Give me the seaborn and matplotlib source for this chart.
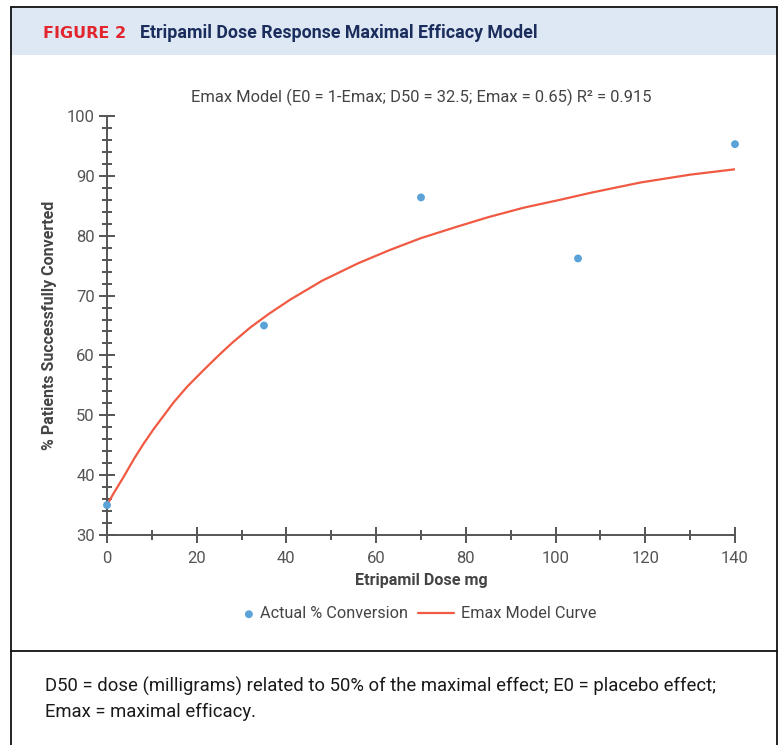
import matplotlib
matplotlib.use("Agg")
import matplotlib.pyplot as plt
from matplotlib.lines import Line2D
from matplotlib.patches import Rectangle
from matplotlib.ticker import MultipleLocator
from matplotlib.legend_handler import HandlerPathCollection
from matplotlib.collections import PathCollection
import seaborn as sns
import pandas as pd

# observed conversion rates per dose
dose_mg = [0, 35, 70, 105, 140]
pct_converted = [35.0, 65.0, 86.4, 76.2, 95.3]

# fitted Emax curve
curve_dose = [0, 1.5, 3.7, 6, 8.2, 10.5, 12.7, 14.9, 17.9, 21.6, 25.3, 27.9,
              32, 36, 40.8, 48, 56, 63, 70, 78, 85, 93, 101, 108, 119, 130, 140]
curve_pct = [35.0, 37.0, 39.7, 42.7, 45.3, 47.8, 50.0, 52.2, 54.8, 57.6, 60.3,
             62.1, 64.7, 66.9, 69.3, 72.5, 75.4, 77.6, 79.6, 81.5, 83.1, 84.7,
             86.0, 87.2, 88.9, 90.2, 91.1]

x_ticks = [0, 20, 40, 60, 80, 100, 120, 140]
y_ticks = [30, 40, 50, 60, 70, 80, 90, 100]

BLUE = "#5aa2d8"
RED = "#f05a42"
GREY = "#555555"
TEXT = "#444444"


class DotAtRight(HandlerPathCollection):
    # put the legend dot close to its label instead of mid-handle
    def get_xdata(self, legend, xdescent, ydescent, width, height, fontsize):
        return [-xdescent, -xdescent + width], [-xdescent + width - 3]


sns.set_style("ticks")
plt.rcParams["font.family"] = ["Roboto", "DejaVu Sans"]

W, H = 780, 745
fig = plt.figure(figsize=(W / 100, H / 100), dpi=100)


def fx(px):
    return px / W


def fy(py):
    return 1 - py / H


# frame, header band and divider
fig.add_artist(Rectangle((fx(10.5), fy(55)), fx(776.5) - fx(10.5), fy(7) - fy(55),
                         transform=fig.transFigure, facecolor="#dde8f4",
                         edgecolor="none", zorder=0))
for xs, ys in [([10.5, 10.5], [7, 745]), ([776.5, 776.5], [7, 745]),
               ([10.5, 776.5], [7, 7]), ([10.5, 776.5], [650.5, 650.5])]:
    fig.add_artist(Line2D([fx(v) for v in xs], [fy(v) for v in ys],
                          transform=fig.transFigure, color="#111111", lw=1.3))

fig.text(fx(43), fy(33), "FIGURE 2", family="DejaVu Sans", fontweight="bold",
         fontsize=11.5, color="#e3262d", va="center")
fig.text(fx(140), fy(33), "Etripamil Dose Response Maximal Efficacy Model",
         fontweight="bold", fontsize=12.8, color="#1b2d5c", va="center")

fig.text(fx(421), fy(97), "Emax Model (E0 = 1-Emax; D50 = 32.5; Emax = 0.65) R² = 0.915",
         ha="center", va="center", fontsize=11.9, color=TEXT)

ax = fig.add_axes([fx(107), fy(535), fx(735) - fx(107), fy(116) - fy(535)])

sns.scatterplot(x=dose_mg, y=pct_converted, ax=ax, color=BLUE, s=32,
                edgecolor="none", clip_on=False, zorder=3,
                label="Actual % Conversion")
sns.lineplot(x=curve_dose, y=curve_pct, ax=ax, color=RED, lw=1.6,
             label="Emax Model Curve")

ax.set_xlim(0, 140)
ax.set_ylim(30, 100)
ax.set_xticks(x_ticks)
ax.set_yticks(y_ticks)
ax.xaxis.set_minor_locator(MultipleLocator(10))
ax.yaxis.set_minor_locator(MultipleLocator(2))
sns.despine(ax=ax)
for side in ["left", "bottom"]:
    ax.spines[side].set_color(GREY)
    ax.spines[side].set_linewidth(1.4)
ax.tick_params(which="major", direction="inout", length=11.5, width=1.4,
               color=GREY, labelsize=12, labelcolor=GREY, pad=3)
ax.tick_params(which="minor", direction="inout", length=6.5, width=1.4, color=GREY)
ax.tick_params(axis="x", which="major", pad=5.5)

ax.set_xlabel("Etripamil Dose mg", fontsize=11.6, fontweight="semibold",
              color=TEXT, labelpad=5)
ax.set_ylabel("% Patients Successfully Converted", fontsize=11.5,
              fontweight="semibold", color=TEXT, labelpad=7)

handles, labels = ax.get_legend_handles_labels()
ax.get_legend().remove()
fig.legend(handles, labels, loc="center", bbox_to_anchor=(fx(407), fy(614)),
           ncol=2, frameon=False, fontsize=11.7, labelcolor=TEXT,
           handlelength=2.2, handletextpad=0.45, columnspacing=0.6,
           handler_map={PathCollection: DotAtRight()})

fig.text(fx(45), fy(686),
         "D50 = dose (milligrams) related to 50% of the maximal effect; E0 = placebo effect;",
         fontsize=13.35, color="#1a1a1a", va="center")
fig.text(fx(45), fy(712), "Emax = maximal efficacy.", fontsize=13.35,
         color="#1a1a1a", va="center")

fig.savefig("out.png", dpi=100)
